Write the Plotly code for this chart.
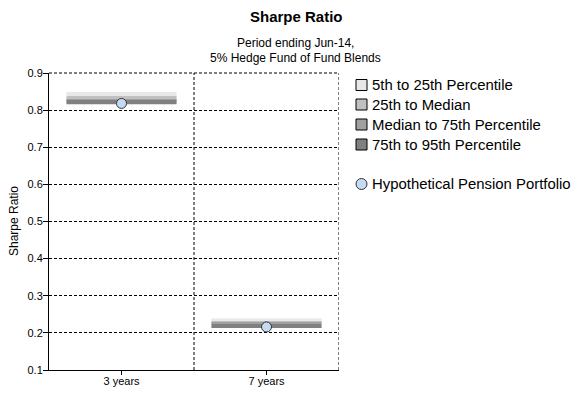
import plotly.graph_objects as go

categories = ["3 years", "7 years"]
p5 = [0.849, 0.239]
p25 = [0.838, 0.232]
p50 = [0.830, 0.228]
p75 = [0.827, 0.224]
p95 = [0.816, 0.213]
portfolio = [0.818, 0.216]

band_names = ["5th to 25th Percentile", "25th to Median",
              "Median to 75th Percentile", "75th to 95th Percentile"]
band_colors = ["#e8e8e8", "#c0c0c0", "#a0a0a0", "#808080"]
portfolio_name = "Hypothetical Pension Portfolio"
tops = [p5, p25, p50, p75]
bottoms = [p25, p50, p75, p95]

# page geometry (pixels); the page body adds an 8px offset
OFF = 8
PAGE_W, PAGE_H = 583, 397
W, H = PAGE_W - OFF, PAGE_H - OFF
# desired plot area in page pixels: x 49..339, y 73..370
L = 49 - OFF
T = 73 - OFF
R = W - (339 - OFF)
B = H - (370 - OFF)
PW, PH = W - L - R, H - T - B


def px_x(px):
    return (px - OFF - L) / PW


def px_y(py):
    return (H - B - (py - OFF)) / PH


fig = go.Figure()
for name, col, top, bot in zip(band_names, band_colors, tops, bottoms):
    fig.add_trace(go.Bar(
        x=categories, y=[t - b for t, b in zip(top, bot)], base=bot, name=name,
        marker=dict(color=col, line=dict(width=0)), width=0.76,
        showlegend=False))

fig.add_trace(go.Scatter(
    x=categories, y=portfolio, mode="markers", name=portfolio_name,
    showlegend=False,
    marker=dict(symbol="circle", size=10, color="#c6dbf3",
                line=dict(color="#333333", width=1))))

dash = "3px,2px"
for xv in [0.5, 1.5]:
    fig.add_shape(type="line", x0=xv, x1=xv, y0=0, y1=1, xref="x", yref="paper",
                  line=dict(color="#000000", width=1, dash=dash))
fig.add_shape(type="line", x0=0, x1=1, y0=1, y1=1, xref="paper", yref="paper",
              line=dict(color="#000000", width=1, dash=dash))

# manual legend
row_y = [85, 104.5, 124.5, 144.5]
LEG_FONT = 14.9
for name, col, ry in zip(band_names, band_colors, row_y):
    fig.add_shape(type="rect", xref="paper", yref="paper",
                  x0=px_x(356), x1=px_x(367), y0=px_y(ry - 5.5), y1=px_y(ry + 5.5),
                  fillcolor=col, line=dict(color="#000000", width=1))
    fig.add_annotation(text=name, xref="paper", yref="paper", x=px_x(370),
                       y=px_y(ry), xanchor="left", yanchor="middle",
                       showarrow=False, font=dict(size=LEG_FONT))
cy = 184
fig.add_shape(type="circle", xref="paper", yref="paper",
              x0=px_x(356), x1=px_x(367), y0=px_y(cy - 5.5), y1=px_y(cy + 5.5),
              fillcolor="#c6dbf3", line=dict(color="#333333", width=1))
fig.add_annotation(text=portfolio_name, xref="paper", yref="paper", x=px_x(370),
                   y=px_y(cy), xanchor="left", yanchor="middle",
                   showarrow=False, font=dict(size=LEG_FONT))

# titles
fig.add_annotation(text="<b>Sharpe Ratio</b>", xref="paper", yref="paper",
                   x=px_x(296), y=px_y(17), xanchor="center", yanchor="middle",
                   showarrow=False, font=dict(size=15))
fig.add_annotation(text="Period ending Jun-14,", xref="paper", yref="paper",
                   x=px_x(295), y=px_y(43), xanchor="center", yanchor="middle",
                   showarrow=False, font=dict(size=12))
fig.add_annotation(text="5% Hedge Fund of Fund Blends", xref="paper", yref="paper",
                   x=px_x(295), y=px_y(58), xanchor="center", yanchor="middle",
                   showarrow=False, font=dict(size=12))
fig.add_annotation(text="Sharpe Ratio", xref="paper", yref="paper",
                   x=px_x(14), y=px_y(221), xanchor="center", yanchor="middle",
                   textangle=-90, showarrow=False, font=dict(size=12))

fig.update_layout(
    width=W, height=H,
    margin=dict(l=L, r=R, t=T, b=B),
    paper_bgcolor="white", plot_bgcolor="white",
    font=dict(family="Liberation Sans, Arial, sans-serif", size=11, color="#000000"),
    barmode="overlay",
    showlegend=False,
)
fig.update_xaxes(type="category", range=[-0.5, 1.5], showline=True, linecolor="#000000",
                 linewidth=1, ticks="outside", ticklen=4, tickcolor="#000000",
                 showgrid=False, automargin=False, ticklabelstandoff=-3)
fig.update_yaxes(range=[0.1, 0.9], dtick=0.1, tickformat=".1f", showline=True,
                 linecolor="#000000", linewidth=1, ticks="outside", ticklen=5,
                 tickcolor="#000000", showgrid=True, gridcolor="#000000",
                 griddash=dash, gridwidth=1, zeroline=False, automargin=False,
                 ticklabelstandoff=-2)

fig.write_html("out.html")
